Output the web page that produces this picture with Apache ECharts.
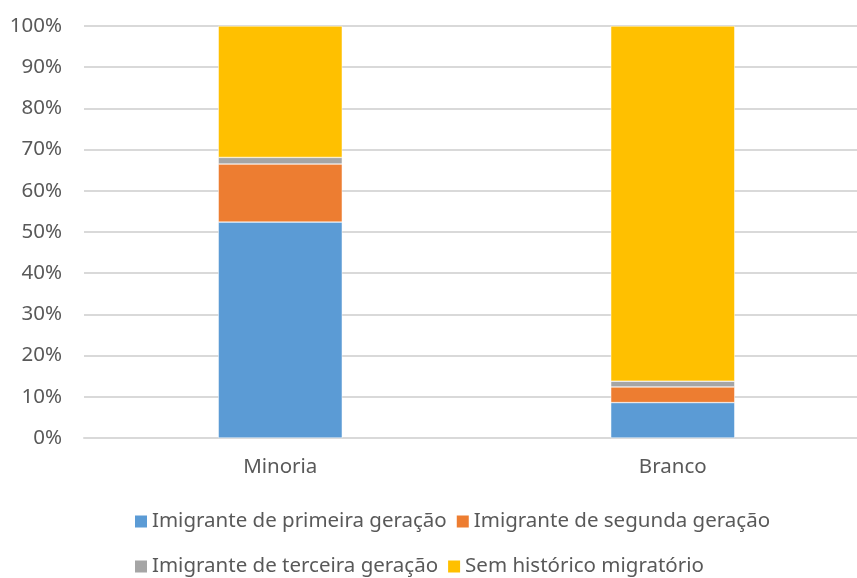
<!DOCTYPE html>
<html>
<head>
<meta charset="utf-8">
<script src="https://cdn.jsdelivr.net/npm/echarts@6/dist/echarts.min.js"></script>
<style>
  html, body { margin: 0; padding: 0; background: #fff; }
  #chart { width: 857px; height: 578px; }
</style>
</head>
<body>
<div id="chart"></div>
<script>
// categorias e valores (%)
const categories = ['Minoria', 'Branco'];
const seriesNames = [
  'Imigrante de primeira geração',
  'Imigrante de segunda geração',
  'Imigrante de terceira geração',
  'Sem histórico migratório'
];
const primeira = [52.4, 8.6];
const segunda = [14.1, 3.8];
const terceira = [1.6, 1.4];
const semHistorico = [31.9, 86.2];
const colors = ['#5b9bd5', '#ed7d31', '#a5a5a5', '#ffc000'];

const font = '"Noto Sans", sans-serif';
const values = [primeira, segunda, terceira, semHistorico];

const legendBase = {
  left: 128,
  itemWidth: 14, itemHeight: 14, itemGap: 8,
  icon: 'rect',
  textStyle: { fontSize: 20.5, color: '#595959', fontFamily: font, padding: [0, 0, 0, -1] }
};

const chart = echarts.init(document.getElementById('chart'));
chart.setOption({
  animation: false,
  textStyle: { fontFamily: font },
  // a área do gráfico original continua um pouco além da borda direita
  grid: { left: 84, right: -12, top: 26, bottom: 140, outerBoundsMode: 'none', containLabel: false },
  legend: [
    Object.assign({ data: seriesNames.slice(0, 2), top: 506 }, legendBase),
    Object.assign({ data: seriesNames.slice(2), top: 551 }, legendBase)
  ],
  xAxis: {
    type: 'category',
    data: categories,
    axisTick: { show: false },
    axisLine: { lineStyle: { color: '#d9d9d9', width: 2 } },
    axisLabel: { color: '#595959', fontSize: 20.5, margin: 19 }
  },
  yAxis: {
    type: 'value',
    min: 0, max: 100, interval: 10,
    axisLabel: { formatter: '{value}%', color: '#595959', fontSize: 20.5, margin: 22 },
    splitLine: { lineStyle: { color: '#d9d9d9', width: 2 } },
    axisLine: { show: false },
    axisTick: { show: false }
  },
  series: seriesNames.map((name, i) => ({
    name: name,
    type: 'bar',
    stack: 'total',
    barWidth: '31.6%',
    data: values[i],
    itemStyle: { color: colors[i], borderColor: '#fff', borderWidth: 0.5 }
  }))
});
</script>
</body>
</html>
